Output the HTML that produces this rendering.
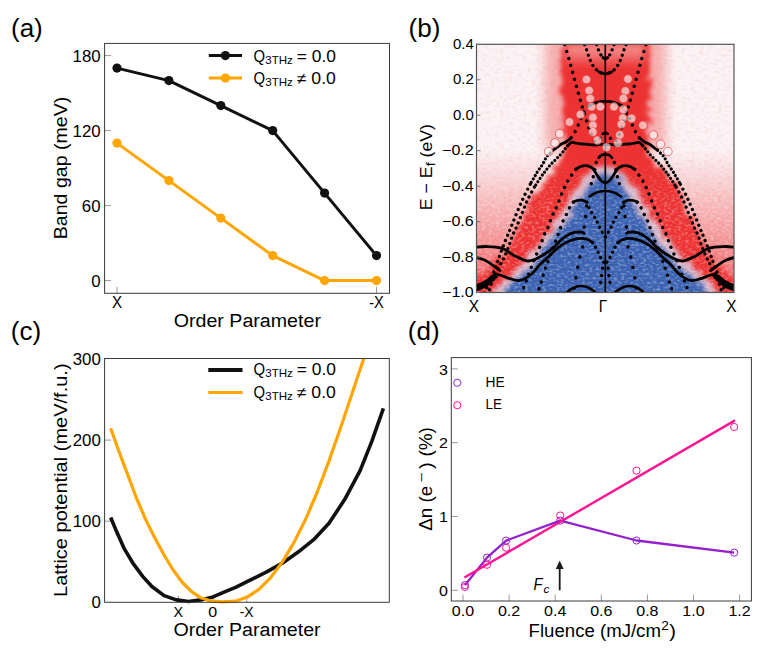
<!DOCTYPE html><html><head><meta charset="utf-8"><style>html,body{margin:0;padding:0;background:#fff;}svg{display:block;}text{font-family:"Liberation Sans",sans-serif;white-space:pre;}</style></head><body>
<svg width="768" height="655" viewBox="0 0 768 655">
<rect width="768" height="655" fill="#fff"/>
<text x="11.00" y="37.00" font-size="26" fill="#000">(a)</text>
<text x="408.60" y="37.00" font-size="26" fill="#000">(b)</text>
<text x="10.80" y="339.60" font-size="26" fill="#000">(c)</text>
<text x="407.80" y="339.80" font-size="26" fill="#000">(d)</text>
<line x1="104.60" y1="280.60" x2="111.10" y2="280.60" stroke="#9a9a9a" stroke-width="1"/>
<text x="100.60" y="286.50" font-size="15.58" text-anchor="end" textLength="9.35" lengthAdjust="spacingAndGlyphs" fill="#000">0</text>
<line x1="104.60" y1="205.60" x2="111.10" y2="205.60" stroke="#9a9a9a" stroke-width="1"/>
<text x="100.60" y="211.50" font-size="15.58" text-anchor="end" textLength="18.71" lengthAdjust="spacingAndGlyphs" fill="#000">60</text>
<line x1="104.60" y1="130.60" x2="111.10" y2="130.60" stroke="#9a9a9a" stroke-width="1"/>
<text x="100.60" y="136.50" font-size="15.58" text-anchor="end" textLength="28.06" lengthAdjust="spacingAndGlyphs" fill="#000">120</text>
<line x1="104.60" y1="55.60" x2="111.10" y2="55.60" stroke="#9a9a9a" stroke-width="1"/>
<text x="100.60" y="61.50" font-size="15.58" text-anchor="end" textLength="28.06" lengthAdjust="spacingAndGlyphs" fill="#000">180</text>
<line x1="117.00" y1="293.30" x2="117.00" y2="286.80" stroke="#9a9a9a" stroke-width="1"/>
<text x="117.00" y="308.00" font-size="15.58" text-anchor="middle" textLength="10.07" lengthAdjust="spacingAndGlyphs" fill="#000">X</text>
<line x1="376.50" y1="293.30" x2="376.50" y2="286.80" stroke="#9a9a9a" stroke-width="1"/>
<text x="376.50" y="308.00" font-size="15.58" text-anchor="middle" textLength="14.64" lengthAdjust="spacingAndGlyphs" fill="#000">-X</text>
<rect x="104.60" y="43.40" width="284.90" height="249.90" fill="none" stroke="#3a3a3a" stroke-width="1"/>
<text x="247.35" y="327.10" font-size="18.65" text-anchor="middle" textLength="147.18" lengthAdjust="spacingAndGlyphs" fill="#000">Order Parameter</text>
<text x="67.20" y="168.00" font-size="18.54" text-anchor="middle" textLength="142.44" lengthAdjust="spacingAndGlyphs" fill="#000" transform="rotate(-90 67.20 168.00)">Band gap (meV)</text>
<polyline points="117.00,143.10 168.90,180.60 220.80,218.10 272.70,255.60 324.60,280.60 376.50,280.60" fill="none" stroke="#ffa500" stroke-width="3" stroke-linejoin="round"/>
<circle cx="117.00" cy="143.10" r="4.6" fill="#ffa500"/>
<circle cx="168.90" cy="180.60" r="4.6" fill="#ffa500"/>
<circle cx="220.80" cy="218.10" r="4.6" fill="#ffa500"/>
<circle cx="272.70" cy="255.60" r="4.6" fill="#ffa500"/>
<circle cx="324.60" cy="280.60" r="4.6" fill="#ffa500"/>
<circle cx="376.50" cy="280.60" r="4.6" fill="#ffa500"/>
<polyline points="117.00,68.10 168.90,80.60 220.80,105.60 272.70,130.60 324.60,193.10 376.50,255.60" fill="none" stroke="#111" stroke-width="3" stroke-linejoin="round"/>
<circle cx="117.00" cy="68.10" r="4.6" fill="#111"/>
<circle cx="168.90" cy="80.60" r="4.6" fill="#111"/>
<circle cx="220.80" cy="105.60" r="4.6" fill="#111"/>
<circle cx="272.70" cy="130.60" r="4.6" fill="#111"/>
<circle cx="324.60" cy="193.10" r="4.6" fill="#111"/>
<circle cx="376.50" cy="255.60" r="4.6" fill="#111"/>
<line x1="208.8" y1="55.60" x2="242.0" y2="55.60" stroke="#111" stroke-width="3"/>
<circle cx="225.4" cy="55.60" r="4.6" fill="#111"/>
<text x="253.40" y="61.60" font-size="15.58" text-anchor="start" textLength="11.57" lengthAdjust="spacingAndGlyphs" fill="#000">Q</text>
<text x="265.30" y="63.80" font-size="11.37" text-anchor="start" textLength="27.60" lengthAdjust="spacingAndGlyphs" fill="#000">3THz</text>
<text x="296.80" y="61.60" font-size="15.58" text-anchor="start" textLength="39.10" lengthAdjust="spacingAndGlyphs" fill="#000">= 0.0</text>
<line x1="208.8" y1="78.10" x2="242.0" y2="78.10" stroke="#ffa500" stroke-width="3"/>
<circle cx="225.4" cy="78.10" r="4.6" fill="#ffa500"/>
<text x="253.40" y="83.50" font-size="15.58" text-anchor="start" textLength="11.57" lengthAdjust="spacingAndGlyphs" fill="#000">Q</text>
<text x="265.30" y="85.70" font-size="11.37" text-anchor="start" textLength="27.60" lengthAdjust="spacingAndGlyphs" fill="#000">3THz</text>
<text x="296.80" y="83.50" font-size="15.58" text-anchor="start" textLength="39.10" lengthAdjust="spacingAndGlyphs" fill="#000">≠ 0.0</text>
<text x="100.80" y="608.10" font-size="15.58" text-anchor="end" textLength="9.35" lengthAdjust="spacingAndGlyphs" fill="#000">0</text>
<line x1="104.60" y1="521.20" x2="111.10" y2="521.20" stroke="#9a9a9a" stroke-width="1"/>
<text x="100.80" y="527.00" font-size="15.58" text-anchor="end" textLength="28.06" lengthAdjust="spacingAndGlyphs" fill="#000">100</text>
<line x1="104.60" y1="440.10" x2="111.10" y2="440.10" stroke="#9a9a9a" stroke-width="1"/>
<text x="100.80" y="445.90" font-size="15.58" text-anchor="end" textLength="28.06" lengthAdjust="spacingAndGlyphs" fill="#000">200</text>
<text x="100.80" y="364.80" font-size="15.58" text-anchor="end" textLength="28.06" lengthAdjust="spacingAndGlyphs" fill="#000">300</text>
<line x1="178.40" y1="602.30" x2="178.40" y2="595.80" stroke="#9a9a9a" stroke-width="1"/>
<text x="178.40" y="616.80" font-size="14.83" text-anchor="middle" textLength="9.59" lengthAdjust="spacingAndGlyphs" fill="#000">X</text>
<line x1="212.80" y1="602.30" x2="212.80" y2="595.80" stroke="#9a9a9a" stroke-width="1"/>
<text x="212.80" y="616.80" font-size="14.83" text-anchor="middle" textLength="8.91" lengthAdjust="spacingAndGlyphs" fill="#000">0</text>
<line x1="246.70" y1="602.30" x2="246.70" y2="595.80" stroke="#9a9a9a" stroke-width="1"/>
<text x="246.70" y="616.80" font-size="14.83" text-anchor="middle" textLength="13.95" lengthAdjust="spacingAndGlyphs" fill="#000">-X</text>
<text x="247.00" y="636.30" font-size="18.65" text-anchor="middle" textLength="147.18" lengthAdjust="spacingAndGlyphs" fill="#000">Order Parameter</text>
<text x="67.00" y="480.20" font-size="18.44" text-anchor="middle" textLength="233.52" lengthAdjust="spacingAndGlyphs" fill="#000" transform="rotate(-90 67.00 480.20)">Lattice potential (meV/f.u.)</text>
<clipPath id="cclip"><rect x="104.60" y="358.50" width="284.70" height="246.80"/></clipPath>
<g clip-path="url(#cclip)">
<polyline points="110.70,517.50 116.80,532.10 124.40,548.90 133.60,564.20 142.70,576.40 151.90,586.50 164.10,595.60 176.30,599.90 188.50,601.50 200.80,599.90 213.00,596.90 225.20,591.70 235.60,587.40 251.10,579.60 266.70,571.80 282.30,563.20 297.80,552.30 313.40,539.90 329.00,523.20 344.50,499.80 360.10,470.60 371.80,441.40 383.40,408.40" fill="none" stroke="#111" stroke-width="3.6" stroke-linejoin="round"/>
<polyline points="110.70,428.30 118.30,449.70 127.50,474.10 136.60,498.50 145.80,519.90 155.00,538.20 164.10,555.00 173.30,570.30 182.40,582.50 191.60,591.70 200.80,597.80 209.90,600.80 222.10,601.80 235.60,601.20 247.20,597.10 258.90,589.30 270.60,577.60 282.30,562.10 293.90,542.60 305.60,519.30 317.30,492.00 329.00,460.90 340.60,427.80 352.30,392.80 364.00,357.80 365.00,354.00" fill="none" stroke="#ffa500" stroke-width="3.2" stroke-linejoin="round"/>
</g>
<rect x="104.60" y="358.50" width="284.70" height="243.80" fill="none" stroke="#3a3a3a" stroke-width="1"/>
<line x1="208.3" y1="370.00" x2="242.5" y2="370.00" stroke="#111" stroke-width="3.8"/>
<text x="253.40" y="375.20" font-size="15.58" text-anchor="start" textLength="11.57" lengthAdjust="spacingAndGlyphs" fill="#000">Q</text>
<text x="265.30" y="377.40" font-size="11.37" text-anchor="start" textLength="27.60" lengthAdjust="spacingAndGlyphs" fill="#000">3THz</text>
<text x="296.80" y="375.20" font-size="15.58" text-anchor="start" textLength="39.10" lengthAdjust="spacingAndGlyphs" fill="#000">= 0.0</text>
<line x1="208.3" y1="392.50" x2="242.5" y2="392.50" stroke="#ffa500" stroke-width="3"/>
<text x="253.40" y="398.10" font-size="15.58" text-anchor="start" textLength="11.57" lengthAdjust="spacingAndGlyphs" fill="#000">Q</text>
<text x="265.30" y="400.30" font-size="11.37" text-anchor="start" textLength="27.60" lengthAdjust="spacingAndGlyphs" fill="#000">3THz</text>
<text x="296.80" y="398.10" font-size="15.58" text-anchor="start" textLength="39.10" lengthAdjust="spacingAndGlyphs" fill="#000">≠ 0.0</text>
<line x1="451.30" y1="590.30" x2="457.80" y2="590.30" stroke="#9a9a9a" stroke-width="1"/>
<text x="447.90" y="595.90" font-size="14.83" text-anchor="end" textLength="8.91" lengthAdjust="spacingAndGlyphs" fill="#000">0</text>
<line x1="451.30" y1="516.50" x2="457.80" y2="516.50" stroke="#9a9a9a" stroke-width="1"/>
<text x="447.90" y="522.10" font-size="14.83" text-anchor="end" textLength="8.91" lengthAdjust="spacingAndGlyphs" fill="#000">1</text>
<line x1="451.30" y1="442.70" x2="457.80" y2="442.70" stroke="#9a9a9a" stroke-width="1"/>
<text x="447.90" y="448.30" font-size="14.83" text-anchor="end" textLength="8.91" lengthAdjust="spacingAndGlyphs" fill="#000">2</text>
<line x1="451.30" y1="368.90" x2="457.80" y2="368.90" stroke="#9a9a9a" stroke-width="1"/>
<text x="447.90" y="374.50" font-size="14.83" text-anchor="end" textLength="8.91" lengthAdjust="spacingAndGlyphs" fill="#000">3</text>
<line x1="463.00" y1="601.00" x2="463.00" y2="594.50" stroke="#9a9a9a" stroke-width="1"/>
<text x="463.00" y="615.70" font-size="14.83" text-anchor="middle" textLength="22.27" lengthAdjust="spacingAndGlyphs" fill="#000">0.0</text>
<line x1="509.10" y1="601.00" x2="509.10" y2="594.50" stroke="#9a9a9a" stroke-width="1"/>
<text x="509.10" y="615.70" font-size="14.83" text-anchor="middle" textLength="22.27" lengthAdjust="spacingAndGlyphs" fill="#000">0.2</text>
<line x1="555.20" y1="601.00" x2="555.20" y2="594.50" stroke="#9a9a9a" stroke-width="1"/>
<text x="555.20" y="615.70" font-size="14.83" text-anchor="middle" textLength="22.27" lengthAdjust="spacingAndGlyphs" fill="#000">0.4</text>
<line x1="601.30" y1="601.00" x2="601.30" y2="594.50" stroke="#9a9a9a" stroke-width="1"/>
<text x="601.30" y="615.70" font-size="14.83" text-anchor="middle" textLength="22.27" lengthAdjust="spacingAndGlyphs" fill="#000">0.6</text>
<line x1="647.40" y1="601.00" x2="647.40" y2="594.50" stroke="#9a9a9a" stroke-width="1"/>
<text x="647.40" y="615.70" font-size="14.83" text-anchor="middle" textLength="22.27" lengthAdjust="spacingAndGlyphs" fill="#000">0.8</text>
<line x1="693.50" y1="601.00" x2="693.50" y2="594.50" stroke="#9a9a9a" stroke-width="1"/>
<text x="693.50" y="615.70" font-size="14.83" text-anchor="middle" textLength="22.27" lengthAdjust="spacingAndGlyphs" fill="#000">1.0</text>
<line x1="739.60" y1="601.00" x2="739.60" y2="594.50" stroke="#9a9a9a" stroke-width="1"/>
<text x="739.60" y="615.70" font-size="14.83" text-anchor="middle" textLength="22.27" lengthAdjust="spacingAndGlyphs" fill="#000">1.2</text>
<rect x="451.30" y="357.60" width="300.10" height="243.40" fill="none" stroke="#3a3a3a" stroke-width="1"/>
<text x="528.60" y="637.10" font-size="18.12" text-anchor="start" textLength="132.34" lengthAdjust="spacingAndGlyphs" fill="#000">Fluence (mJ/cm</text>
<text x="661.24" y="630.00" font-size="12.68" text-anchor="start" textLength="7.62" lengthAdjust="spacingAndGlyphs" fill="#000">2</text>
<text x="669.35" y="637.10" font-size="18.12" text-anchor="start" textLength="6.67" lengthAdjust="spacingAndGlyphs" fill="#000">)</text>
<g transform="rotate(-90 432.50 478.60)">
<text x="380.30" y="478.60" font-size="18.01" text-anchor="start" textLength="44.90" lengthAdjust="spacingAndGlyphs" fill="#000">Δn (e</text>
<text x="428.50" y="471.90" font-size="12.61" text-anchor="start" textLength="9.97" lengthAdjust="spacingAndGlyphs" fill="#000">−</text>
<text x="442.10" y="478.60" font-size="18.01" text-anchor="start" textLength="6.63" lengthAdjust="spacingAndGlyphs" fill="#000">)</text>
<text x="454.50" y="478.60" font-size="18.01" text-anchor="start" textLength="29.42" lengthAdjust="spacingAndGlyphs" fill="#000">(%)</text>
</g>
<polyline points="464.90,585.20 487.00,557.60 506.10,540.60 560.20,520.60 636.50,540.50 734.20,552.60" fill="none" stroke="#9420cc" stroke-width="2.3" stroke-linejoin="round"/>
<line x1="464.4" y1="577.5" x2="735.0" y2="420.4" stroke="#ff1493" stroke-width="2.4"/>
<circle cx="464.90" cy="585.20" r="3.6" fill="none" stroke="#9420cc" stroke-width="1"/>
<circle cx="487.00" cy="557.60" r="3.6" fill="none" stroke="#9420cc" stroke-width="1"/>
<circle cx="506.10" cy="540.60" r="3.6" fill="none" stroke="#9420cc" stroke-width="1"/>
<circle cx="560.20" cy="520.60" r="3.6" fill="none" stroke="#9420cc" stroke-width="1"/>
<circle cx="636.50" cy="540.50" r="3.6" fill="none" stroke="#9420cc" stroke-width="1"/>
<circle cx="734.20" cy="552.60" r="3.6" fill="none" stroke="#9420cc" stroke-width="1"/>
<circle cx="464.90" cy="587.00" r="3.6" fill="none" stroke="#ff1493" stroke-width="1"/>
<circle cx="487.00" cy="564.80" r="3.6" fill="none" stroke="#ff1493" stroke-width="1"/>
<circle cx="506.10" cy="547.70" r="3.6" fill="none" stroke="#ff1493" stroke-width="1"/>
<circle cx="560.20" cy="515.50" r="3.6" fill="none" stroke="#ff1493" stroke-width="1"/>
<circle cx="636.50" cy="470.60" r="3.6" fill="none" stroke="#ff1493" stroke-width="1"/>
<circle cx="734.20" cy="427.00" r="3.6" fill="none" stroke="#ff1493" stroke-width="1"/>
<circle cx="457.3" cy="382.8" r="3.6" fill="none" stroke="#9420cc" stroke-width="1"/>
<circle cx="457.3" cy="405.2" r="3.6" fill="none" stroke="#ff1493" stroke-width="1"/>
<text x="485.60" y="386.90" font-size="14.62" text-anchor="start" textLength="19.10" lengthAdjust="spacingAndGlyphs" fill="#000">HE</text>
<text x="485.60" y="409.30" font-size="14.62" text-anchor="start" textLength="16.41" lengthAdjust="spacingAndGlyphs" fill="#000">LE</text>
<line x1="559.7" y1="590.3" x2="559.7" y2="566" stroke="#1a1a1a" stroke-width="1.8"/>
<polygon points="559.7,560.6 555.8,569.0 563.6,569.0" fill="#1a1a1a"/>
<text x="533.60" y="590.30" font-size="16.53" text-anchor="start" textLength="8.97" lengthAdjust="spacingAndGlyphs" fill="#000" font-style="italic">F</text>
<text x="543.40" y="593.00" font-size="11.57" text-anchor="start" textLength="6.00" lengthAdjust="spacingAndGlyphs" fill="#000" font-style="italic">c</text>
<text x="473.80" y="49.00" font-size="13.88" text-anchor="end" textLength="20.83" lengthAdjust="spacingAndGlyphs" fill="#000">0.4</text>
<text x="473.80" y="84.46" font-size="13.88" text-anchor="end" textLength="20.83" lengthAdjust="spacingAndGlyphs" fill="#000">0.2</text>
<text x="473.80" y="119.91" font-size="13.88" text-anchor="end" textLength="20.83" lengthAdjust="spacingAndGlyphs" fill="#000">0.0</text>
<text x="473.80" y="155.37" font-size="13.88" text-anchor="end" textLength="31.81" lengthAdjust="spacingAndGlyphs" fill="#000">−0.2</text>
<text x="473.80" y="190.83" font-size="13.88" text-anchor="end" textLength="31.81" lengthAdjust="spacingAndGlyphs" fill="#000">−0.4</text>
<text x="473.80" y="226.29" font-size="13.88" text-anchor="end" textLength="31.81" lengthAdjust="spacingAndGlyphs" fill="#000">−0.6</text>
<text x="473.80" y="261.74" font-size="13.88" text-anchor="end" textLength="31.81" lengthAdjust="spacingAndGlyphs" fill="#000">−0.8</text>
<text x="473.80" y="297.20" font-size="13.88" text-anchor="end" textLength="31.81" lengthAdjust="spacingAndGlyphs" fill="#000">−1.0</text>
<text x="474.00" y="312.30" font-size="15.89" text-anchor="middle" textLength="10.28" lengthAdjust="spacingAndGlyphs" fill="#000">X</text>
<text x="603.00" y="312.30" font-size="15.89" text-anchor="middle" textLength="8.36" lengthAdjust="spacingAndGlyphs" fill="#000">Γ</text>
<text x="731.30" y="312.30" font-size="15.89" text-anchor="middle" textLength="10.28" lengthAdjust="spacingAndGlyphs" fill="#000">X</text>
<g transform="rotate(-90 432.40 167.10)">
<text x="389.35" y="167.10" font-size="16.95" text-anchor="start" textLength="43.80" lengthAdjust="spacingAndGlyphs" fill="#000">E − E</text>
<text x="433.15" y="169.30" font-size="11.87" text-anchor="start" textLength="3.94" lengthAdjust="spacingAndGlyphs" fill="#000">f</text>
<text x="437.09" y="167.10" font-size="16.95" text-anchor="start" textLength="38.36" lengthAdjust="spacingAndGlyphs" fill="#000"> (eV)</text>
</g>
<defs>
<clipPath id="bclip"><rect x="476.50" y="44.30" width="257.50" height="248.20"/></clipPath>
<filter id="bl6" x="-20%" y="-20%" width="140%" height="140%"><feGaussianBlur stdDeviation="6"/></filter>
<filter id="bl4" x="-20%" y="-20%" width="140%" height="140%"><feGaussianBlur stdDeviation="3.5"/></filter>
<filter id="bl2" x="-20%" y="-20%" width="140%" height="140%"><feGaussianBlur stdDeviation="2"/></filter>
<filter id="rough" x="-10%" y="-10%" width="120%" height="120%"><feTurbulence type="fractalNoise" baseFrequency="0.12" numOctaves="3" seed="11" result="t"/><feDisplacementMap in="SourceGraphic" in2="t" scale="14" xChannelSelector="R" yChannelSelector="G" result="d"/><feGaussianBlur in="d" stdDeviation="2.2"/></filter>
<filter id="rough2" x="-10%" y="-10%" width="120%" height="120%"><feTurbulence type="fractalNoise" baseFrequency="0.15" numOctaves="3" seed="5" result="t"/><feDisplacementMap in="SourceGraphic" in2="t" scale="12" xChannelSelector="R" yChannelSelector="G" result="d"/><feGaussianBlur in="d" stdDeviation="2"/></filter>
<filter id="pinkspk" x="0" y="0" width="100%" height="100%"><feTurbulence type="fractalNoise" baseFrequency="0.22 0.35" numOctaves="2" seed="21"/><feColorMatrix type="matrix" values="0 0 0 0 0.93  0 0 0 0 0.3  0 0 0 0 0.32  0 0 0 -3.0 1.6"/></filter>
</defs>
<g clip-path="url(#bclip)">
<rect x="476.50" y="44.30" width="257.50" height="248.20" fill="#fbf3f5"/>
<rect x="476.50" y="44.30" width="257.50" height="248.20" filter="url(#pinkspk)" opacity="0.16"/>
<linearGradient id="haze" x1="0" y1="0" x2="0" y2="1"><stop offset="0.065" stop-color="#ec3030" stop-opacity="0"/><stop offset="0.26" stop-color="#ec3030" stop-opacity="0.15"/><stop offset="0.39" stop-color="#ec3030" stop-opacity="0.27"/><stop offset="0.53" stop-color="#ec3030" stop-opacity="0.38"/><stop offset="0.78" stop-color="#ec3030" stop-opacity="0.58"/><stop offset="1" stop-color="#ec3030" stop-opacity="0.75"/></linearGradient>
<rect x="476.50" y="140" width="257.50" height="152.50" fill="url(#haze)"/>
<g filter="url(#bl6)" opacity="0.35">
<polygon points="545.00,30.00 666.00,30.00 666.00,150.00 545.00,150.00" fill="#ec3030"/>
</g>
<polygon points="561.00,30.00 650.00,30.00 650.00,100.00 647.00,140.00 651.00,155.00 656.00,165.00 666.00,173.00 675.70,182.00 686.00,206.00 697.80,232.00 706.00,250.00 720.00,268.00 742.00,285.00 742.00,300.00 468.00,300.00 470.00,280.00 488.00,270.00 503.00,255.00 514.00,239.00 525.50,213.00 532.00,200.00 538.00,192.00 548.00,178.00 557.00,166.00 561.00,155.00 565.00,140.00 561.00,100.00" fill="#ec3030" filter="url(#rough)"/>
<linearGradient id="topg" x1="0" y1="0" x2="0" y2="1"><stop offset="0" stop-color="#fff" stop-opacity="0.5"/><stop offset="0.5" stop-color="#fff" stop-opacity="0.3"/><stop offset="1" stop-color="#fff" stop-opacity="0"/></linearGradient>
<rect x="566" y="44" width="79" height="24" fill="url(#topg)" filter="url(#bl4)"/>
<path d="M490.0,296.0 L498.0,286.0 L506.0,278.0 L518.0,268.0 L527.0,258.5 L534.0,247.5 L542.2,237.3 L551.3,227.1 L558.4,217.0 L564.5,206.8 L570.6,196.6 L577.7,186.5 L585.9,176.3 L591.5,171.5 C599.6,164.0 611.4,164.0 619.5,171.5 L627.3,176.3 L633.4,186.5 L639.5,196.6 L645.6,206.8 L651.7,217.0 L658.8,227.1 L665.9,237.3 L674.0,247.5 L682.1,257.6 L692.0,267.0 L707.5,278.0 L714.0,286.0 L720.0,296.0 Z" fill="#dcb8c8" filter="url(#rough2)"/>
<path d="M498.0,300.0 L506.0,290.0 L514.0,282.0 L526.0,272.0 L535.0,262.5 L542.0,251.5 L550.2,241.3 L559.3,231.1 L566.4,221.0 L572.5,210.8 L578.6,200.6 L585.7,190.5 L593.9,180.3 L599.5,175.5 C602.0,172.0 609.0,172.0 611.5,175.5 L619.3,180.3 L625.4,190.5 L631.5,200.6 L637.6,210.8 L643.7,221.0 L650.8,231.1 L657.9,241.3 L666.0,251.5 L674.1,261.6 L684.0,271.0 L699.5,282.0 L706.0,290.0 L712.0,300.0 Z" fill="#3a62b2" filter="url(#rough2)"/>
<filter id="spk" x="0" y="0" width="100%" height="100%"><feTurbulence type="fractalNoise" baseFrequency="0.28 0.45" numOctaves="2" seed="7"/><feColorMatrix type="matrix" values="0 0 0 0 1  0 0 0 0 1  0 0 0 0 1  0 0 0 -3.2 1.75"/></filter>
<linearGradient id="spkg" x1="0" y1="0" x2="0" y2="1"><stop offset="0" stop-color="#fff" stop-opacity="0"/><stop offset="0.45" stop-color="#fff" stop-opacity="0"/><stop offset="0.65" stop-color="#fff" stop-opacity="1"/><stop offset="1" stop-color="#fff" stop-opacity="1"/></linearGradient>
<mask id="spkm"><rect x="476.50" y="44.30" width="257.50" height="248.20" fill="url(#spkg)"/></mask>
<rect x="476.50" y="44.30" width="257.50" height="248.20" filter="url(#spk)" opacity="0.3" mask="url(#spkm)"/>
<g>
<path d="M564.60,44.60 C565.37,47.17 567.73,54.87 569.20,60.00 C570.67,65.13 571.98,70.23 573.40,75.40 C574.82,80.57 576.28,85.97 577.70,91.00 C579.12,96.03 580.53,100.98 581.90,105.60 C583.27,110.22 584.62,114.60 585.90,118.70 C587.18,122.80 588.25,126.65 589.60,130.20 C590.95,133.75 592.60,137.37 594.00,140.00 C595.40,142.63 597.33,145.00 598.00,146.00" fill="none" stroke="#000" stroke-width="3.4" stroke-linecap="round" stroke-dasharray="0.01 7.2"/>
<path d="M584.60,44.60 C584.77,45.08 585.27,46.62 585.60,47.50 C585.93,48.38 586.12,48.50 586.60,49.90 C587.08,51.30 587.85,54.08 588.50,55.90 C589.15,57.72 589.73,59.15 590.50,60.80 C591.27,62.45 592.10,64.30 593.10,65.80 C594.10,67.30 595.27,68.67 596.50,69.80 C597.73,70.93 599.03,71.92 600.50,72.60 C601.97,73.28 604.50,73.68 605.30,73.90" fill="none" stroke="#000" stroke-width="3.3" stroke-linecap="round" stroke-dasharray="0.01 5.6"/>
<path d="M598.50,71.50 C598.83,71.72 599.37,72.38 600.50,72.80 C601.63,73.22 604.50,73.80 605.30,74.00" fill="none" stroke="#000" stroke-width="2.6" stroke-linecap="round" stroke-linejoin="round"/>
<path d="M596.60,44.60 C596.92,45.48 597.85,48.28 598.50,49.90 C599.15,51.52 599.65,52.95 600.50,54.30 C601.35,55.65 602.80,57.28 603.60,58.00 C604.40,58.72 605.02,58.50 605.30,58.60" fill="none" stroke="#000" stroke-width="3.3" stroke-linecap="round" stroke-dasharray="0.01 5.6"/>
<path d="M603.00,57.60 L605.30,58.80" fill="none" stroke="#000" stroke-width="3" stroke-linecap="round" stroke-linejoin="round"/>
<path d="M605.30,133.30 C604.65,133.87 602.52,135.45 601.40,136.70 C600.28,137.95 599.07,140.12 598.60,140.80" fill="none" stroke="#000" stroke-width="3.4" stroke-linecap="round" stroke-dasharray="0.01 7.2"/>
<path d="M605.30,132.80 L602.80,133.80" fill="none" stroke="#000" stroke-width="2.6" stroke-linecap="round" stroke-linejoin="round"/>
<path d="M605.30,154.20 C604.67,154.37 602.62,154.60 601.50,155.20 C600.38,155.80 599.08,157.37 598.60,157.80" fill="none" stroke="#000" stroke-width="2.6" stroke-linecap="round" stroke-linejoin="round"/>
<path d="M605.30,101.40 C604.25,101.47 601.07,101.40 599.00,101.80 C596.93,102.20 594.65,103.07 592.90,103.80 C591.15,104.53 589.23,105.80 588.50,106.20" fill="none" stroke="#000" stroke-width="2.8" stroke-linecap="round" stroke-linejoin="round"/>
<path d="M588.50,106.20 C587.70,107.23 585.18,109.80 583.70,112.40 C582.22,115.00 580.60,119.47 579.60,121.80 C578.60,124.13 578.38,124.87 577.70,126.40 C577.02,127.93 576.25,129.62 575.50,131.00 C574.75,132.38 573.97,133.48 573.20,134.70 C572.43,135.92 571.28,137.70 570.90,138.30" fill="none" stroke="#000" stroke-width="3.4" stroke-linecap="round" stroke-dasharray="0.01 7.2"/>
<path d="M570.90,138.30 C570.05,138.92 567.57,140.93 565.80,142.00 C564.03,143.07 561.98,143.63 560.30,144.70 C558.62,145.77 556.92,147.48 555.70,148.40 C554.48,149.32 553.45,149.90 553.00,150.20" fill="none" stroke="#000" stroke-width="2.8" stroke-linecap="round" stroke-linejoin="round"/>
<path d="M553.00,150.20 C552.38,150.82 550.37,152.82 549.30,153.90 C548.23,154.98 547.52,155.32 546.60,156.70 C545.68,158.08 544.72,160.53 543.80,162.20 C542.88,163.87 542.02,165.33 541.10,166.70 C540.18,168.07 539.22,169.02 538.30,170.40 C537.38,171.78 536.95,172.70 535.60,175.00 C534.25,177.30 531.10,182.67 530.20,184.20" fill="none" stroke="#000" stroke-width="3.2" stroke-linecap="round" stroke-dasharray="0.01 3.9"/>
<path d="M530.20,184.20 C529.07,186.45 525.52,193.20 523.40,197.70 C521.28,202.20 519.48,206.48 517.50,211.20 C515.52,215.92 513.33,221.53 511.50,226.00 C509.67,230.47 508.33,233.45 506.50,238.00 C504.67,242.55 502.33,248.35 500.50,253.30 C498.67,258.25 497.58,262.42 495.50,267.70 C493.42,272.98 489.92,280.45 488.00,285.00 C486.08,289.55 484.67,293.33 484.00,295.00" fill="none" stroke="#000" stroke-width="3.3" stroke-linecap="round" stroke-dasharray="0.01 5.6"/>
<path d="M605.30,144.60 C604.63,144.57 603.10,144.33 601.30,144.40 C599.50,144.47 597.05,145.03 594.50,145.00 C591.95,144.97 588.48,144.40 586.00,144.20 C583.52,144.00 581.43,144.02 579.60,143.80 C577.77,143.58 576.38,143.12 575.00,142.90 C573.62,142.68 572.52,142.03 571.30,142.50 C570.08,142.97 568.30,145.17 567.70,145.70" fill="none" stroke="#000" stroke-width="2.8" stroke-linecap="round" stroke-linejoin="round"/>
<path d="M567.70,145.70 C567.23,146.30 565.98,147.93 564.90,149.30 C563.82,150.67 562.42,152.52 561.20,153.90 C559.98,155.28 558.82,156.38 557.60,157.60 C556.38,158.82 555.13,159.98 553.90,161.20 C552.67,162.42 551.42,163.52 550.20,164.90 C548.98,166.28 547.67,168.12 546.60,169.50 C545.53,170.88 544.72,171.98 543.80,173.20 C542.88,174.42 542.67,174.48 541.10,176.80 C539.53,179.12 535.52,185.38 534.40,187.10" fill="none" stroke="#000" stroke-width="3.2" stroke-linecap="round" stroke-dasharray="0.01 3.9"/>
<path d="M534.40,187.10 C533.27,189.22 529.72,195.28 527.60,199.80 C525.48,204.32 523.67,209.40 521.70,214.20 C519.73,219.00 517.35,225.05 515.80,228.60 C514.25,232.15 513.53,232.65 512.40,235.50 C511.27,238.35 510.27,242.30 509.00,245.70 C507.73,249.10 506.48,252.23 504.80,255.90 C503.12,259.57 501.03,263.35 498.90,267.70 C496.77,272.05 493.82,277.45 492.00,282.00 C490.18,286.55 488.67,292.83 488.00,295.00" fill="none" stroke="#000" stroke-width="3.3" stroke-linecap="round" stroke-dasharray="0.01 5.6"/>
<path d="M605.30,183.00 C604.67,182.67 602.73,182.08 601.50,181.00 C600.27,179.92 599.35,178.58 597.90,176.50 C596.45,174.42 594.45,170.27 592.80,168.50 C591.15,166.73 589.42,166.38 588.00,165.90 C586.58,165.42 585.63,165.45 584.30,165.60 C582.97,165.75 581.40,166.18 580.00,166.80 C578.60,167.42 576.58,168.88 575.90,169.30" fill="none" stroke="#000" stroke-width="2.8" stroke-linecap="round" stroke-linejoin="round"/>
<path d="M575.90,169.30 C574.62,171.13 570.47,176.48 568.20,180.30 C565.93,184.12 564.13,187.97 562.30,192.20 C560.47,196.43 558.88,201.75 557.20,205.70 C555.52,209.65 553.75,212.23 552.20,215.90 C550.65,219.57 549.17,224.72 547.90,227.70 C546.63,230.68 545.87,230.80 544.60,233.80 C543.33,236.80 542.00,241.47 540.30,245.70 C538.60,249.93 536.23,254.68 534.40,259.20 C532.57,263.72 531.00,268.28 529.30,272.80 C527.60,277.32 525.58,282.43 524.20,286.30 C522.82,290.17 521.53,294.38 521.00,296.00" fill="none" stroke="#000" stroke-width="3.4" stroke-linecap="round" stroke-dasharray="0.01 7.2"/>
<path d="M605.30,191.00 C604.63,191.05 603.02,190.93 601.30,191.30 C599.58,191.67 596.97,192.33 595.00,193.20 C593.03,194.07 590.42,195.95 589.50,196.50" fill="none" stroke="#000" stroke-width="2.6" stroke-linecap="round" stroke-linejoin="round"/>
<path d="M573.40,202.10 C574.00,201.85 575.47,200.92 577.00,200.60 C578.53,200.28 580.95,199.92 582.60,200.20 C584.25,200.48 586.18,201.95 586.90,202.30" fill="none" stroke="#000" stroke-width="2.6" stroke-linecap="round" stroke-linejoin="round"/>
<path d="M573.40,202.10 C572.92,202.70 571.45,204.03 570.50,205.70 C569.55,207.37 568.77,209.97 567.70,212.10 C566.63,214.23 565.17,216.25 564.10,218.50 C563.03,220.75 562.23,223.12 561.30,225.60 C560.37,228.08 559.45,230.80 558.50,233.40 C557.55,236.00 556.55,238.72 555.60,241.20 C554.65,243.68 553.75,245.82 552.80,248.30 C551.85,250.78 550.85,253.50 549.90,256.10 C548.95,258.70 548.03,261.42 547.10,263.90 C546.17,266.38 545.13,268.40 544.30,271.00 C543.47,273.60 542.82,277.13 542.10,279.50 C541.38,281.87 540.77,282.78 540.00,285.20 C539.23,287.62 537.92,292.53 537.50,294.00" fill="none" stroke="#000" stroke-width="3.4" stroke-linecap="round" stroke-dasharray="0.01 7.2"/>
<path d="M586.90,202.30 C587.37,203.45 588.75,207.22 589.70,209.20 C590.65,211.18 591.65,212.65 592.60,214.20 C593.55,215.75 594.58,217.08 595.40,218.50 C596.22,219.92 596.78,221.17 597.50,222.70 C598.22,224.23 598.87,226.03 599.70,227.70 C600.53,229.37 601.57,231.17 602.50,232.70 C603.43,234.23 604.83,236.20 605.30,236.90" fill="none" stroke="#000" stroke-width="3.3" stroke-linecap="round" stroke-dasharray="0.01 5.6"/>
<path d="M582.60,246.90 C582.13,248.55 580.63,253.25 579.80,256.80 C578.97,260.35 578.32,264.42 577.60,268.20 C576.88,271.98 576.08,275.87 575.50,279.50 C574.92,283.13 574.33,288.25 574.10,290.00" fill="none" stroke="#000" stroke-width="3.4" stroke-linecap="round" stroke-dasharray="0.01 10.5"/>
<path d="M586.50,206.00 C586.33,207.83 585.92,213.33 585.50,217.00 C585.08,220.67 584.25,226.17 584.00,228.00" fill="none" stroke="#000" stroke-width="3.4" stroke-linecap="round" stroke-dasharray="0.01 10.5"/>
<path d="M602.50,268.20 C602.27,270.08 601.57,276.20 601.10,279.50 C600.63,282.80 599.93,286.58 599.70,288.00" fill="none" stroke="#000" stroke-width="3.4" stroke-linecap="round" stroke-dasharray="0.01 7.2"/>
<path d="M474.00,247.40 C476.03,247.25 481.63,246.37 486.20,246.50 C490.77,246.63 496.60,246.63 501.40,248.20 C506.20,249.77 510.77,253.78 515.00,255.90 C519.23,258.02 523.43,260.35 526.80,260.90 C530.17,261.45 531.82,260.60 535.20,259.20 C538.58,257.80 543.93,254.55 547.10,252.50 C550.27,250.45 551.83,249.02 554.20,246.90 C556.57,244.78 558.93,241.82 561.30,239.80 C563.67,237.78 566.03,236.07 568.40,234.80 C570.77,233.53 573.37,232.63 575.50,232.20 C577.63,231.77 579.78,232.03 581.20,232.20 C582.62,232.37 583.53,233.03 584.00,233.20" fill="none" stroke="#000" stroke-width="2.8" stroke-linecap="round" stroke-linejoin="round"/>
<path d="M474.00,287.00 C476.03,286.03 482.48,283.28 486.20,281.20 C489.92,279.12 492.35,274.92 496.30,274.50 C500.25,274.08 505.95,277.72 509.90,278.70 C513.85,279.68 516.48,281.10 520.00,280.40 C523.52,279.70 527.67,277.15 531.00,274.50 C534.33,271.85 537.08,267.45 540.00,264.50 C542.92,261.55 545.67,259.45 548.50,256.80 C551.33,254.15 554.15,250.93 557.00,248.60 C559.85,246.27 562.75,244.35 565.60,242.80 C568.45,241.25 571.27,240.05 574.10,239.30 C576.93,238.55 580.23,238.22 582.60,238.30 C584.97,238.38 586.63,239.08 588.30,239.80 C589.97,240.52 591.88,242.13 592.60,242.60" fill="none" stroke="#000" stroke-width="2.8" stroke-linecap="round" stroke-linejoin="round"/>
<path d="M592.60,242.60 C593.07,243.32 594.47,245.23 595.40,246.90 C596.33,248.57 597.25,250.72 598.20,252.60 C599.15,254.48 600.15,256.55 601.10,258.20 C602.05,259.85 603.20,261.32 603.90,262.50 C604.60,263.68 605.07,264.83 605.30,265.30" fill="none" stroke="#000" stroke-width="3.3" stroke-linecap="round" stroke-dasharray="0.01 5.6"/>
<path d="M474.00,256.70 C475.75,257.27 481.35,258.67 484.50,260.10 C487.65,261.53 490.32,263.57 492.90,265.30 C495.48,267.03 498.82,269.63 500.00,270.50" fill="none" stroke="#000" stroke-width="2.8" stroke-linecap="round" stroke-linejoin="round"/>
<path d="M474.00,290.00 C476.00,289.17 482.33,287.33 486.00,285.00 C489.67,282.67 494.33,277.50 496.00,276.00" fill="none" stroke="#000" stroke-width="4" stroke-linecap="round" stroke-linejoin="round"/>
<path d="M565.00,294.00 C566.17,293.08 569.53,289.83 572.00,288.50 C574.47,287.17 577.30,286.25 579.80,286.00 C582.30,285.75 584.63,286.17 587.00,287.00 C589.37,287.83 592.33,289.83 594.00,291.00 C595.67,292.17 596.50,293.50 597.00,294.00" fill="none" stroke="#000" stroke-width="2.6" stroke-linecap="round" stroke-linejoin="round"/>
<path d="M596.20,162.50 C595.63,165.18 593.93,174.22 592.80,178.60 C591.67,182.98 589.97,187.10 589.40,188.80" fill="none" stroke="#000" stroke-width="3.4" stroke-linecap="round" stroke-dasharray="0.01 7.2"/>
</g>
<g transform="translate(1210.60,0) scale(-1,1)">
<path d="M564.60,44.60 C565.37,47.17 567.73,54.87 569.20,60.00 C570.67,65.13 571.98,70.23 573.40,75.40 C574.82,80.57 576.28,85.97 577.70,91.00 C579.12,96.03 580.53,100.98 581.90,105.60 C583.27,110.22 584.62,114.60 585.90,118.70 C587.18,122.80 588.25,126.65 589.60,130.20 C590.95,133.75 592.60,137.37 594.00,140.00 C595.40,142.63 597.33,145.00 598.00,146.00" fill="none" stroke="#000" stroke-width="3.4" stroke-linecap="round" stroke-dasharray="0.01 7.2"/>
<path d="M584.60,44.60 C584.77,45.08 585.27,46.62 585.60,47.50 C585.93,48.38 586.12,48.50 586.60,49.90 C587.08,51.30 587.85,54.08 588.50,55.90 C589.15,57.72 589.73,59.15 590.50,60.80 C591.27,62.45 592.10,64.30 593.10,65.80 C594.10,67.30 595.27,68.67 596.50,69.80 C597.73,70.93 599.03,71.92 600.50,72.60 C601.97,73.28 604.50,73.68 605.30,73.90" fill="none" stroke="#000" stroke-width="3.3" stroke-linecap="round" stroke-dasharray="0.01 5.6"/>
<path d="M598.50,71.50 C598.83,71.72 599.37,72.38 600.50,72.80 C601.63,73.22 604.50,73.80 605.30,74.00" fill="none" stroke="#000" stroke-width="2.6" stroke-linecap="round" stroke-linejoin="round"/>
<path d="M596.60,44.60 C596.92,45.48 597.85,48.28 598.50,49.90 C599.15,51.52 599.65,52.95 600.50,54.30 C601.35,55.65 602.80,57.28 603.60,58.00 C604.40,58.72 605.02,58.50 605.30,58.60" fill="none" stroke="#000" stroke-width="3.3" stroke-linecap="round" stroke-dasharray="0.01 5.6"/>
<path d="M603.00,57.60 L605.30,58.80" fill="none" stroke="#000" stroke-width="3" stroke-linecap="round" stroke-linejoin="round"/>
<path d="M605.30,133.30 C604.65,133.87 602.52,135.45 601.40,136.70 C600.28,137.95 599.07,140.12 598.60,140.80" fill="none" stroke="#000" stroke-width="3.4" stroke-linecap="round" stroke-dasharray="0.01 7.2"/>
<path d="M605.30,132.80 L602.80,133.80" fill="none" stroke="#000" stroke-width="2.6" stroke-linecap="round" stroke-linejoin="round"/>
<path d="M605.30,154.20 C604.67,154.37 602.62,154.60 601.50,155.20 C600.38,155.80 599.08,157.37 598.60,157.80" fill="none" stroke="#000" stroke-width="2.6" stroke-linecap="round" stroke-linejoin="round"/>
<path d="M605.30,101.40 C604.25,101.47 601.07,101.40 599.00,101.80 C596.93,102.20 594.65,103.07 592.90,103.80 C591.15,104.53 589.23,105.80 588.50,106.20" fill="none" stroke="#000" stroke-width="2.8" stroke-linecap="round" stroke-linejoin="round"/>
<path d="M588.50,106.20 C587.70,107.23 585.18,109.80 583.70,112.40 C582.22,115.00 580.60,119.47 579.60,121.80 C578.60,124.13 578.38,124.87 577.70,126.40 C577.02,127.93 576.25,129.62 575.50,131.00 C574.75,132.38 573.97,133.48 573.20,134.70 C572.43,135.92 571.28,137.70 570.90,138.30" fill="none" stroke="#000" stroke-width="3.4" stroke-linecap="round" stroke-dasharray="0.01 7.2"/>
<path d="M570.90,138.30 C570.05,138.92 567.57,140.93 565.80,142.00 C564.03,143.07 561.98,143.63 560.30,144.70 C558.62,145.77 556.92,147.48 555.70,148.40 C554.48,149.32 553.45,149.90 553.00,150.20" fill="none" stroke="#000" stroke-width="2.8" stroke-linecap="round" stroke-linejoin="round"/>
<path d="M553.00,150.20 C552.38,150.82 550.37,152.82 549.30,153.90 C548.23,154.98 547.52,155.32 546.60,156.70 C545.68,158.08 544.72,160.53 543.80,162.20 C542.88,163.87 542.02,165.33 541.10,166.70 C540.18,168.07 539.22,169.02 538.30,170.40 C537.38,171.78 536.95,172.70 535.60,175.00 C534.25,177.30 531.10,182.67 530.20,184.20" fill="none" stroke="#000" stroke-width="3.2" stroke-linecap="round" stroke-dasharray="0.01 3.9"/>
<path d="M530.20,184.20 C529.07,186.45 525.52,193.20 523.40,197.70 C521.28,202.20 519.48,206.48 517.50,211.20 C515.52,215.92 513.33,221.53 511.50,226.00 C509.67,230.47 508.33,233.45 506.50,238.00 C504.67,242.55 502.33,248.35 500.50,253.30 C498.67,258.25 497.58,262.42 495.50,267.70 C493.42,272.98 489.92,280.45 488.00,285.00 C486.08,289.55 484.67,293.33 484.00,295.00" fill="none" stroke="#000" stroke-width="3.3" stroke-linecap="round" stroke-dasharray="0.01 5.6"/>
<path d="M605.30,144.60 C604.63,144.57 603.10,144.33 601.30,144.40 C599.50,144.47 597.05,145.03 594.50,145.00 C591.95,144.97 588.48,144.40 586.00,144.20 C583.52,144.00 581.43,144.02 579.60,143.80 C577.77,143.58 576.38,143.12 575.00,142.90 C573.62,142.68 572.52,142.03 571.30,142.50 C570.08,142.97 568.30,145.17 567.70,145.70" fill="none" stroke="#000" stroke-width="2.8" stroke-linecap="round" stroke-linejoin="round"/>
<path d="M567.70,145.70 C567.23,146.30 565.98,147.93 564.90,149.30 C563.82,150.67 562.42,152.52 561.20,153.90 C559.98,155.28 558.82,156.38 557.60,157.60 C556.38,158.82 555.13,159.98 553.90,161.20 C552.67,162.42 551.42,163.52 550.20,164.90 C548.98,166.28 547.67,168.12 546.60,169.50 C545.53,170.88 544.72,171.98 543.80,173.20 C542.88,174.42 542.67,174.48 541.10,176.80 C539.53,179.12 535.52,185.38 534.40,187.10" fill="none" stroke="#000" stroke-width="3.2" stroke-linecap="round" stroke-dasharray="0.01 3.9"/>
<path d="M534.40,187.10 C533.27,189.22 529.72,195.28 527.60,199.80 C525.48,204.32 523.67,209.40 521.70,214.20 C519.73,219.00 517.35,225.05 515.80,228.60 C514.25,232.15 513.53,232.65 512.40,235.50 C511.27,238.35 510.27,242.30 509.00,245.70 C507.73,249.10 506.48,252.23 504.80,255.90 C503.12,259.57 501.03,263.35 498.90,267.70 C496.77,272.05 493.82,277.45 492.00,282.00 C490.18,286.55 488.67,292.83 488.00,295.00" fill="none" stroke="#000" stroke-width="3.3" stroke-linecap="round" stroke-dasharray="0.01 5.6"/>
<path d="M605.30,183.00 C604.67,182.67 602.73,182.08 601.50,181.00 C600.27,179.92 599.35,178.58 597.90,176.50 C596.45,174.42 594.45,170.27 592.80,168.50 C591.15,166.73 589.42,166.38 588.00,165.90 C586.58,165.42 585.63,165.45 584.30,165.60 C582.97,165.75 581.40,166.18 580.00,166.80 C578.60,167.42 576.58,168.88 575.90,169.30" fill="none" stroke="#000" stroke-width="2.8" stroke-linecap="round" stroke-linejoin="round"/>
<path d="M575.90,169.30 C574.62,171.13 570.47,176.48 568.20,180.30 C565.93,184.12 564.13,187.97 562.30,192.20 C560.47,196.43 558.88,201.75 557.20,205.70 C555.52,209.65 553.75,212.23 552.20,215.90 C550.65,219.57 549.17,224.72 547.90,227.70 C546.63,230.68 545.87,230.80 544.60,233.80 C543.33,236.80 542.00,241.47 540.30,245.70 C538.60,249.93 536.23,254.68 534.40,259.20 C532.57,263.72 531.00,268.28 529.30,272.80 C527.60,277.32 525.58,282.43 524.20,286.30 C522.82,290.17 521.53,294.38 521.00,296.00" fill="none" stroke="#000" stroke-width="3.4" stroke-linecap="round" stroke-dasharray="0.01 7.2"/>
<path d="M605.30,191.00 C604.63,191.05 603.02,190.93 601.30,191.30 C599.58,191.67 596.97,192.33 595.00,193.20 C593.03,194.07 590.42,195.95 589.50,196.50" fill="none" stroke="#000" stroke-width="2.6" stroke-linecap="round" stroke-linejoin="round"/>
<path d="M573.40,202.10 C574.00,201.85 575.47,200.92 577.00,200.60 C578.53,200.28 580.95,199.92 582.60,200.20 C584.25,200.48 586.18,201.95 586.90,202.30" fill="none" stroke="#000" stroke-width="2.6" stroke-linecap="round" stroke-linejoin="round"/>
<path d="M573.40,202.10 C572.92,202.70 571.45,204.03 570.50,205.70 C569.55,207.37 568.77,209.97 567.70,212.10 C566.63,214.23 565.17,216.25 564.10,218.50 C563.03,220.75 562.23,223.12 561.30,225.60 C560.37,228.08 559.45,230.80 558.50,233.40 C557.55,236.00 556.55,238.72 555.60,241.20 C554.65,243.68 553.75,245.82 552.80,248.30 C551.85,250.78 550.85,253.50 549.90,256.10 C548.95,258.70 548.03,261.42 547.10,263.90 C546.17,266.38 545.13,268.40 544.30,271.00 C543.47,273.60 542.82,277.13 542.10,279.50 C541.38,281.87 540.77,282.78 540.00,285.20 C539.23,287.62 537.92,292.53 537.50,294.00" fill="none" stroke="#000" stroke-width="3.4" stroke-linecap="round" stroke-dasharray="0.01 7.2"/>
<path d="M586.90,202.30 C587.37,203.45 588.75,207.22 589.70,209.20 C590.65,211.18 591.65,212.65 592.60,214.20 C593.55,215.75 594.58,217.08 595.40,218.50 C596.22,219.92 596.78,221.17 597.50,222.70 C598.22,224.23 598.87,226.03 599.70,227.70 C600.53,229.37 601.57,231.17 602.50,232.70 C603.43,234.23 604.83,236.20 605.30,236.90" fill="none" stroke="#000" stroke-width="3.3" stroke-linecap="round" stroke-dasharray="0.01 5.6"/>
<path d="M582.60,246.90 C582.13,248.55 580.63,253.25 579.80,256.80 C578.97,260.35 578.32,264.42 577.60,268.20 C576.88,271.98 576.08,275.87 575.50,279.50 C574.92,283.13 574.33,288.25 574.10,290.00" fill="none" stroke="#000" stroke-width="3.4" stroke-linecap="round" stroke-dasharray="0.01 10.5"/>
<path d="M586.50,206.00 C586.33,207.83 585.92,213.33 585.50,217.00 C585.08,220.67 584.25,226.17 584.00,228.00" fill="none" stroke="#000" stroke-width="3.4" stroke-linecap="round" stroke-dasharray="0.01 10.5"/>
<path d="M602.50,268.20 C602.27,270.08 601.57,276.20 601.10,279.50 C600.63,282.80 599.93,286.58 599.70,288.00" fill="none" stroke="#000" stroke-width="3.4" stroke-linecap="round" stroke-dasharray="0.01 7.2"/>
<path d="M474.00,247.40 C476.03,247.25 481.63,246.37 486.20,246.50 C490.77,246.63 496.60,246.63 501.40,248.20 C506.20,249.77 510.77,253.78 515.00,255.90 C519.23,258.02 523.43,260.35 526.80,260.90 C530.17,261.45 531.82,260.60 535.20,259.20 C538.58,257.80 543.93,254.55 547.10,252.50 C550.27,250.45 551.83,249.02 554.20,246.90 C556.57,244.78 558.93,241.82 561.30,239.80 C563.67,237.78 566.03,236.07 568.40,234.80 C570.77,233.53 573.37,232.63 575.50,232.20 C577.63,231.77 579.78,232.03 581.20,232.20 C582.62,232.37 583.53,233.03 584.00,233.20" fill="none" stroke="#000" stroke-width="2.8" stroke-linecap="round" stroke-linejoin="round"/>
<path d="M474.00,287.00 C476.03,286.03 482.48,283.28 486.20,281.20 C489.92,279.12 492.35,274.92 496.30,274.50 C500.25,274.08 505.95,277.72 509.90,278.70 C513.85,279.68 516.48,281.10 520.00,280.40 C523.52,279.70 527.67,277.15 531.00,274.50 C534.33,271.85 537.08,267.45 540.00,264.50 C542.92,261.55 545.67,259.45 548.50,256.80 C551.33,254.15 554.15,250.93 557.00,248.60 C559.85,246.27 562.75,244.35 565.60,242.80 C568.45,241.25 571.27,240.05 574.10,239.30 C576.93,238.55 580.23,238.22 582.60,238.30 C584.97,238.38 586.63,239.08 588.30,239.80 C589.97,240.52 591.88,242.13 592.60,242.60" fill="none" stroke="#000" stroke-width="2.8" stroke-linecap="round" stroke-linejoin="round"/>
<path d="M592.60,242.60 C593.07,243.32 594.47,245.23 595.40,246.90 C596.33,248.57 597.25,250.72 598.20,252.60 C599.15,254.48 600.15,256.55 601.10,258.20 C602.05,259.85 603.20,261.32 603.90,262.50 C604.60,263.68 605.07,264.83 605.30,265.30" fill="none" stroke="#000" stroke-width="3.3" stroke-linecap="round" stroke-dasharray="0.01 5.6"/>
<path d="M474.00,256.70 C475.75,257.27 481.35,258.67 484.50,260.10 C487.65,261.53 490.32,263.57 492.90,265.30 C495.48,267.03 498.82,269.63 500.00,270.50" fill="none" stroke="#000" stroke-width="2.8" stroke-linecap="round" stroke-linejoin="round"/>
<path d="M474.00,290.00 C476.00,289.17 482.33,287.33 486.00,285.00 C489.67,282.67 494.33,277.50 496.00,276.00" fill="none" stroke="#000" stroke-width="4" stroke-linecap="round" stroke-linejoin="round"/>
<path d="M565.00,294.00 C566.17,293.08 569.53,289.83 572.00,288.50 C574.47,287.17 577.30,286.25 579.80,286.00 C582.30,285.75 584.63,286.17 587.00,287.00 C589.37,287.83 592.33,289.83 594.00,291.00 C595.67,292.17 596.50,293.50 597.00,294.00" fill="none" stroke="#000" stroke-width="2.6" stroke-linecap="round" stroke-linejoin="round"/>
<path d="M596.20,162.50 C595.63,165.18 593.93,174.22 592.80,178.60 C591.67,182.98 589.97,187.10 589.40,188.80" fill="none" stroke="#000" stroke-width="3.4" stroke-linecap="round" stroke-dasharray="0.01 7.2"/>
</g>
<line x1="605.30" y1="44.30" x2="605.30" y2="292.50" stroke="#000" stroke-width="1.6"/>
<circle cx="586.50" cy="79.50" r="4.3" fill="#fff" fill-opacity="0.62" stroke="#e03a3a" stroke-opacity="0.85" stroke-width="0.8"/>
<circle cx="589.20" cy="90.50" r="4.3" fill="#fff" fill-opacity="0.62" stroke="#e03a3a" stroke-opacity="0.85" stroke-width="0.8"/>
<circle cx="590.20" cy="98.50" r="4.3" fill="#fff" fill-opacity="0.62" stroke="#e03a3a" stroke-opacity="0.85" stroke-width="0.8"/>
<circle cx="591.50" cy="106.70" r="4.3" fill="#fff" fill-opacity="0.62" stroke="#e03a3a" stroke-opacity="0.85" stroke-width="0.8"/>
<circle cx="600.30" cy="106.70" r="4.3" fill="#fff" fill-opacity="0.62" stroke="#e03a3a" stroke-opacity="0.85" stroke-width="0.8"/>
<circle cx="580.40" cy="114.50" r="4.3" fill="#fff" fill-opacity="0.62" stroke="#e03a3a" stroke-opacity="0.85" stroke-width="0.8"/>
<circle cx="592.90" cy="117.50" r="4.3" fill="#fff" fill-opacity="0.62" stroke="#e03a3a" stroke-opacity="0.85" stroke-width="0.8"/>
<circle cx="569.50" cy="122.00" r="4.3" fill="#fff" fill-opacity="0.62" stroke="#e03a3a" stroke-opacity="0.85" stroke-width="0.8"/>
<circle cx="592.90" cy="125.30" r="4.3" fill="#fff" fill-opacity="0.62" stroke="#e03a3a" stroke-opacity="0.85" stroke-width="0.8"/>
<circle cx="592.90" cy="132.10" r="4.3" fill="#fff" fill-opacity="0.62" stroke="#e03a3a" stroke-opacity="0.85" stroke-width="0.8"/>
<circle cx="559.70" cy="133.70" r="4.3" fill="#fff" fill-opacity="0.62" stroke="#e03a3a" stroke-opacity="0.85" stroke-width="0.8"/>
<circle cx="597.40" cy="140.30" r="4.3" fill="#fff" fill-opacity="0.62" stroke="#e03a3a" stroke-opacity="0.85" stroke-width="0.8"/>
<circle cx="555.00" cy="142.90" r="4.3" fill="#fff" fill-opacity="0.62" stroke="#e03a3a" stroke-opacity="0.85" stroke-width="0.8"/>
<circle cx="548.80" cy="151.60" r="4.3" fill="#fff" fill-opacity="0.62" stroke="#e03a3a" stroke-opacity="0.85" stroke-width="0.8"/>
<circle cx="606.60" cy="147.30" r="4.3" fill="#fff" fill-opacity="0.62" stroke="#e03a3a" stroke-opacity="0.85" stroke-width="0.8"/>
<circle cx="627.90" cy="79.00" r="4.3" fill="#fff" fill-opacity="0.62" stroke="#e03a3a" stroke-opacity="0.85" stroke-width="0.8"/>
<circle cx="625.30" cy="91.00" r="4.3" fill="#fff" fill-opacity="0.62" stroke="#e03a3a" stroke-opacity="0.85" stroke-width="0.8"/>
<circle cx="623.40" cy="98.50" r="4.3" fill="#fff" fill-opacity="0.62" stroke="#e03a3a" stroke-opacity="0.85" stroke-width="0.8"/>
<circle cx="614.00" cy="106.70" r="4.3" fill="#fff" fill-opacity="0.62" stroke="#e03a3a" stroke-opacity="0.85" stroke-width="0.8"/>
<circle cx="623.40" cy="109.60" r="4.3" fill="#fff" fill-opacity="0.62" stroke="#e03a3a" stroke-opacity="0.85" stroke-width="0.8"/>
<circle cx="622.80" cy="118.00" r="4.3" fill="#fff" fill-opacity="0.62" stroke="#e03a3a" stroke-opacity="0.85" stroke-width="0.8"/>
<circle cx="631.60" cy="118.40" r="4.3" fill="#fff" fill-opacity="0.62" stroke="#e03a3a" stroke-opacity="0.85" stroke-width="0.8"/>
<circle cx="621.40" cy="124.30" r="4.3" fill="#fff" fill-opacity="0.62" stroke="#e03a3a" stroke-opacity="0.85" stroke-width="0.8"/>
<circle cx="642.90" cy="125.30" r="4.3" fill="#fff" fill-opacity="0.62" stroke="#e03a3a" stroke-opacity="0.85" stroke-width="0.8"/>
<circle cx="619.80" cy="135.00" r="4.3" fill="#fff" fill-opacity="0.62" stroke="#e03a3a" stroke-opacity="0.85" stroke-width="0.8"/>
<circle cx="653.40" cy="135.00" r="4.3" fill="#fff" fill-opacity="0.62" stroke="#e03a3a" stroke-opacity="0.85" stroke-width="0.8"/>
<circle cx="617.90" cy="142.90" r="4.3" fill="#fff" fill-opacity="0.62" stroke="#e03a3a" stroke-opacity="0.85" stroke-width="0.8"/>
<circle cx="660.50" cy="144.20" r="4.3" fill="#fff" fill-opacity="0.62" stroke="#e03a3a" stroke-opacity="0.85" stroke-width="0.8"/>
<circle cx="667.90" cy="151.60" r="4.3" fill="#fff" fill-opacity="0.62" stroke="#e03a3a" stroke-opacity="0.85" stroke-width="0.8"/>
</g>
<rect x="476.50" y="44.30" width="257.50" height="248.20" fill="none" stroke="#555" stroke-width="1.2"/>
<line x1="476.50" y1="44.30" x2="480.50" y2="44.30" stroke="#777" stroke-width="1"/>
<line x1="476.50" y1="79.76" x2="480.50" y2="79.76" stroke="#777" stroke-width="1"/>
<line x1="476.50" y1="115.21" x2="480.50" y2="115.21" stroke="#777" stroke-width="1"/>
<line x1="476.50" y1="150.67" x2="480.50" y2="150.67" stroke="#777" stroke-width="1"/>
<line x1="476.50" y1="186.13" x2="480.50" y2="186.13" stroke="#777" stroke-width="1"/>
<line x1="476.50" y1="221.59" x2="480.50" y2="221.59" stroke="#777" stroke-width="1"/>
<line x1="476.50" y1="257.04" x2="480.50" y2="257.04" stroke="#777" stroke-width="1"/>
<line x1="476.50" y1="292.50" x2="480.50" y2="292.50" stroke="#777" stroke-width="1"/>
</svg></body></html>
